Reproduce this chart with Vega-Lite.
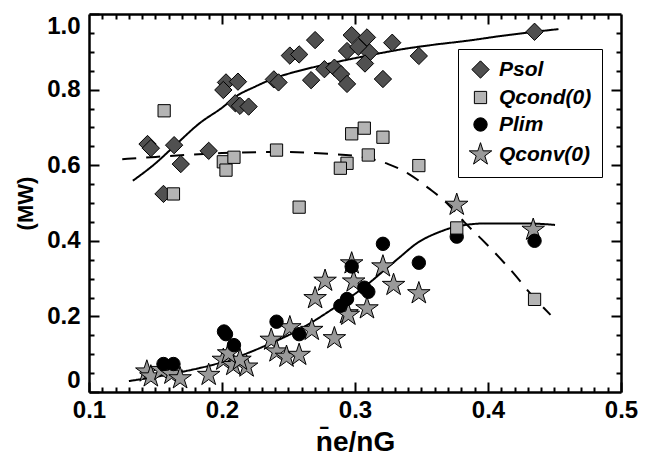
{
  "$schema": "https://vega.github.io/schema/vega-lite/v6.json",
  "width": 532,
  "height": 378,
  "autosize": {"type": "none"},
  "padding": {"left": 89, "top": 14, "right": 24, "bottom": 72},
  "config": {
    "view": {"stroke": null},
    "legend": {
      "labelFont": "Liberation Sans",
      "labelFontSize": 21,
      "labelFontWeight": "bold",
      "labelFontStyle": "italic",
      "labelColor": "black"
    }
  },
  "datasets": {
    "curves": [
      {"curve": "sol", "x": 0.133, "y": 0.559},
      {"curve": "sol", "x": 0.150, "y": 0.605},
      {"curve": "sol", "x": 0.164, "y": 0.650},
      {"curve": "sol", "x": 0.1835, "y": 0.712},
      {"curve": "sol", "x": 0.200, "y": 0.752},
      {"curve": "sol", "x": 0.211, "y": 0.783},
      {"curve": "sol", "x": 0.225, "y": 0.808},
      {"curve": "sol", "x": 0.2386, "y": 0.829},
      {"curve": "sol", "x": 0.255, "y": 0.847},
      {"curve": "sol", "x": 0.271, "y": 0.861},
      {"curve": "sol", "x": 0.2875, "y": 0.874},
      {"curve": "sol", "x": 0.304, "y": 0.886},
      {"curve": "sol", "x": 0.320, "y": 0.897},
      {"curve": "sol", "x": 0.334, "y": 0.906},
      {"curve": "sol", "x": 0.360, "y": 0.919},
      {"curve": "sol", "x": 0.384, "y": 0.929},
      {"curve": "sol", "x": 0.410, "y": 0.942},
      {"curve": "sol", "x": 0.4353, "y": 0.953},
      {"curve": "sol", "x": 0.453, "y": 0.960},
      {"curve": "cond", "x": 0.125, "y": 0.616},
      {"curve": "cond", "x": 0.150, "y": 0.622},
      {"curve": "cond", "x": 0.200, "y": 0.632},
      {"curve": "cond", "x": 0.240, "y": 0.635},
      {"curve": "cond", "x": 0.280, "y": 0.630},
      {"curve": "cond", "x": 0.305, "y": 0.622},
      {"curve": "cond", "x": 0.325, "y": 0.603},
      {"curve": "cond", "x": 0.340, "y": 0.578},
      {"curve": "cond", "x": 0.355, "y": 0.540},
      {"curve": "cond", "x": 0.369, "y": 0.500},
      {"curve": "cond", "x": 0.382, "y": 0.450},
      {"curve": "cond", "x": 0.395, "y": 0.405},
      {"curve": "cond", "x": 0.417, "y": 0.323},
      {"curve": "cond", "x": 0.434, "y": 0.252},
      {"curve": "cond", "x": 0.447, "y": 0.204},
      {"curve": "lim", "x": 0.130, "y": 0.029},
      {"curve": "lim", "x": 0.150, "y": 0.040},
      {"curve": "lim", "x": 0.171, "y": 0.054},
      {"curve": "lim", "x": 0.201, "y": 0.080},
      {"curve": "lim", "x": 0.2336, "y": 0.124},
      {"curve": "lim", "x": 0.2586, "y": 0.166},
      {"curve": "lim", "x": 0.2837, "y": 0.221},
      {"curve": "lim", "x": 0.3088, "y": 0.283},
      {"curve": "lim", "x": 0.3213, "y": 0.320},
      {"curve": "lim", "x": 0.3338, "y": 0.357},
      {"curve": "lim", "x": 0.3463, "y": 0.393},
      {"curve": "lim", "x": 0.364, "y": 0.424},
      {"curve": "lim", "x": 0.3765, "y": 0.438},
      {"curve": "lim", "x": 0.399, "y": 0.446},
      {"curve": "lim", "x": 0.429, "y": 0.446},
      {"curve": "lim", "x": 0.4504, "y": 0.442}
    ],
    "points": [
      {"series": "Qconv(0)", "x": 0.1435, "y": 0.054},
      {"series": "Qconv(0)", "x": 0.1465, "y": 0.041},
      {"series": "Qconv(0)", "x": 0.1545, "y": 0.058},
      {"series": "Qconv(0)", "x": 0.162, "y": 0.048},
      {"series": "Qconv(0)", "x": 0.1685, "y": 0.036},
      {"series": "Qconv(0)", "x": 0.190, "y": 0.045},
      {"series": "Qconv(0)", "x": 0.201, "y": 0.085},
      {"series": "Qconv(0)", "x": 0.2085, "y": 0.071},
      {"series": "Qconv(0)", "x": 0.2185, "y": 0.067},
      {"series": "Qconv(0)", "x": 0.2135, "y": 0.085},
      {"series": "Qconv(0)", "x": 0.205, "y": 0.102},
      {"series": "Qconv(0)", "x": 0.237, "y": 0.138},
      {"series": "Qconv(0)", "x": 0.241, "y": 0.107},
      {"series": "Qconv(0)", "x": 0.2485, "y": 0.093},
      {"series": "Qconv(0)", "x": 0.258, "y": 0.098},
      {"series": "Qconv(0)", "x": 0.251, "y": 0.171},
      {"series": "Qconv(0)", "x": 0.2675, "y": 0.164},
      {"series": "Qconv(0)", "x": 0.270, "y": 0.248},
      {"series": "Qconv(0)", "x": 0.2775, "y": 0.294},
      {"series": "Qconv(0)", "x": 0.2845, "y": 0.142},
      {"series": "Qconv(0)", "x": 0.2975, "y": 0.340},
      {"series": "Qconv(0)", "x": 0.299, "y": 0.292},
      {"series": "Qconv(0)", "x": 0.294, "y": 0.208},
      {"series": "Qconv(0)", "x": 0.309, "y": 0.221},
      {"series": "Qconv(0)", "x": 0.295, "y": 0.204},
      {"series": "Qconv(0)", "x": 0.321, "y": 0.332},
      {"series": "Qconv(0)", "x": 0.329, "y": 0.283},
      {"series": "Qconv(0)", "x": 0.348, "y": 0.261},
      {"series": "Qconv(0)", "x": 0.3765, "y": 0.495},
      {"series": "Qconv(0)", "x": 0.434, "y": 0.429},
      {"series": "Plim", "x": 0.156, "y": 0.074},
      {"series": "Plim", "x": 0.1635, "y": 0.074},
      {"series": "Plim", "x": 0.2015, "y": 0.160},
      {"series": "Plim", "x": 0.203, "y": 0.153},
      {"series": "Plim", "x": 0.209, "y": 0.124},
      {"series": "Plim", "x": 0.241, "y": 0.186},
      {"series": "Plim", "x": 0.258, "y": 0.153},
      {"series": "Plim", "x": 0.289, "y": 0.228},
      {"series": "Plim", "x": 0.294, "y": 0.246},
      {"series": "Plim", "x": 0.2975, "y": 0.332},
      {"series": "Plim", "x": 0.307, "y": 0.276},
      {"series": "Plim", "x": 0.310, "y": 0.265},
      {"series": "Plim", "x": 0.321, "y": 0.392},
      {"series": "Plim", "x": 0.348, "y": 0.342},
      {"series": "Plim", "x": 0.3765, "y": 0.411},
      {"series": "Plim", "x": 0.435, "y": 0.400},
      {"series": "Psol", "x": 0.270, "y": 0.931},
      {"series": "Psol", "x": 0.251, "y": 0.890},
      {"series": "Psol", "x": 0.258, "y": 0.893},
      {"series": "Psol", "x": 0.2975, "y": 0.944},
      {"series": "Psol", "x": 0.309, "y": 0.938},
      {"series": "Psol", "x": 0.294, "y": 0.902},
      {"series": "Psol", "x": 0.3025, "y": 0.913},
      {"series": "Psol", "x": 0.311, "y": 0.898},
      {"series": "Psol", "x": 0.328, "y": 0.924},
      {"series": "Psol", "x": 0.3075, "y": 0.869},
      {"series": "Psol", "x": 0.321, "y": 0.828},
      {"series": "Psol", "x": 0.267, "y": 0.825},
      {"series": "Psol", "x": 0.277, "y": 0.854},
      {"series": "Psol", "x": 0.2845, "y": 0.858},
      {"series": "Psol", "x": 0.2895, "y": 0.841},
      {"series": "Psol", "x": 0.294, "y": 0.815},
      {"series": "Psol", "x": 0.239, "y": 0.827},
      {"series": "Psol", "x": 0.2425, "y": 0.819},
      {"series": "Psol", "x": 0.203, "y": 0.819},
      {"series": "Psol", "x": 0.212, "y": 0.821},
      {"series": "Psol", "x": 0.201, "y": 0.799},
      {"series": "Psol", "x": 0.210, "y": 0.764},
      {"series": "Psol", "x": 0.2135, "y": 0.757},
      {"series": "Psol", "x": 0.220, "y": 0.755},
      {"series": "Psol", "x": 0.144, "y": 0.656},
      {"series": "Psol", "x": 0.1465, "y": 0.645},
      {"series": "Psol", "x": 0.164, "y": 0.653},
      {"series": "Psol", "x": 0.169, "y": 0.603},
      {"series": "Psol", "x": 0.190, "y": 0.638},
      {"series": "Psol", "x": 0.156, "y": 0.524},
      {"series": "Psol", "x": 0.435, "y": 0.953},
      {"series": "Psol", "x": 0.348, "y": 0.889},
      {"series": "Qcond(0)", "x": 0.1565, "y": 0.744},
      {"series": "Qcond(0)", "x": 0.1635, "y": 0.524},
      {"series": "Qcond(0)", "x": 0.201, "y": 0.609},
      {"series": "Qcond(0)", "x": 0.209, "y": 0.621},
      {"series": "Qcond(0)", "x": 0.203, "y": 0.587},
      {"series": "Qcond(0)", "x": 0.241, "y": 0.640},
      {"series": "Qcond(0)", "x": 0.258, "y": 0.489},
      {"series": "Qcond(0)", "x": 0.2975, "y": 0.683},
      {"series": "Qcond(0)", "x": 0.307, "y": 0.698},
      {"series": "Qcond(0)", "x": 0.321, "y": 0.674},
      {"series": "Qcond(0)", "x": 0.310, "y": 0.627},
      {"series": "Qcond(0)", "x": 0.294, "y": 0.605},
      {"series": "Qcond(0)", "x": 0.289, "y": 0.592},
      {"series": "Qcond(0)", "x": 0.348, "y": 0.599},
      {"series": "Qcond(0)", "x": 0.3765, "y": 0.434},
      {"series": "Qcond(0)", "x": 0.435, "y": 0.245}
    ]
  },
  "layer": [
    {
      "data": {"name": "curves"},
      "mark": {"type": "line", "interpolate": "monotone", "strokeWidth": 2, "color": "black"},
      "encoding": {
        "x": {
          "field": "x", "type": "quantitative",
          "scale": {"domain": [0.1, 0.5], "nice": false, "zero": false},
          "axis": {
            "orient": "bottom", "title": null, "labels": false, "grid": false, "domain": false, "ticks": true, "tickSize": -5, "tickColor": "#000000", "tickWidth": 2, "tickOpacity": 1, "zindex": 1,
            "values": [0.11,0.12,0.13,0.14,0.15,0.16,0.17,0.18,0.19,0.21,0.22,0.23,0.24,0.25,0.26,0.27,0.28,0.29,0.31,0.32,0.33,0.34,0.35,0.36,0.37,0.38,0.39,0.41,0.42,0.43,0.44,0.45,0.46,0.47,0.48,0.49]
          }
        },
        "y": {
          "field": "y", "type": "quantitative",
          "scale": {"domain": [0, 1.0], "nice": false, "zero": false},
          "axis": {
            "orient": "left", "title": null, "labels": false, "grid": false, "domain": false, "ticks": true, "tickSize": -5, "tickColor": "#000000", "tickWidth": 2, "tickOpacity": 1, "zindex": 1,
            "values": [0.05,0.1,0.15,0.25,0.3,0.35,0.45,0.5,0.55,0.65,0.7,0.75,0.85,0.9,0.95]
          }
        },
        "detail": {"field": "curve"},
        "strokeDash": {"field": "curve", "type": "nominal", "scale": {"domain": ["sol", "cond", "lim"], "range": [[1, 0], [14, 10], [1, 0]]}, "legend": null}
      }
    },
    {
      "data": {"name": "points"},
      "mark": {"type": "point", "filled": true, "opacity": 1, "stroke": "black", "strokeWidth": 1},
      "encoding": {
        "x": {
          "field": "x", "type": "quantitative",
          "scale": {"domain": [0.1, 0.5], "nice": false, "zero": false},
          "axis": {
            "orient": "bottom",
            "title": "n̄e/nG",
            "titleFont": "Liberation Sans",
            "titleFontWeight": "bold",
            "titleColor": "black",
            "titleFontSize": 28,
            "titlePadding": 6,
            "values": [0.1, 0.2, 0.3, 0.4, 0.5],
            "format": ".1f",
            "labelFont": "Liberation Sans",
            "labelFontSize": 24,
            "labelFontWeight": "bold",
            "labelColor": "black",
            "labelFlush": false,
            "grid": false,
            "domain": true,
            "domainColor": "black",
            "domainWidth": 2.5,
            "ticks": true,
            "tickSize": -10,
            "tickColor": "#000000",
            "tickWidth": 2,
            "tickOpacity": 1,
            "zindex": 1,
            "labelPadding": 16
          }
        },
        "y": {
          "field": "y", "type": "quantitative",
          "scale": {"domain": [0, 1.0], "nice": false, "zero": false},
          "axis": {
            "orient": "left",
            "title": "(MW)",
            "titleFont": "Liberation Sans",
            "titleFontWeight": "bold",
            "titleColor": "black",
            "titleFontSize": 22,
            "titlePadding": 9,
            "values": [0, 0.2, 0.4, 0.6, 0.8, 1.0],
            "labelExpr": "datum.value == 0 ? '0' : format(datum.value, '.1f')",
            "labelFont": "Liberation Sans",
            "labelFontSize": 24,
            "labelFontWeight": "bold",
            "labelColor": "black",
            "grid": false,
            "domain": true,
            "domainColor": "black",
            "domainWidth": 2.5,
            "ticks": true,
            "tickSize": -10,
            "tickColor": "#000000",
            "tickWidth": 2,
            "tickOpacity": 1,
            "zindex": 1,
            "labelPadding": 19,
            "labelFlush": true
          }
        },
        "color": {
          "field": "series", "type": "nominal",
          "scale": {"domain": ["Psol", "Qcond(0)", "Plim", "Qconv(0)"], "range": ["#505050", "#b4b4b4", "#000000", "#999999"]},
          "legend": {
            "title": null,
            "orient": "none",
            "legendX": 369,
            "legendY": 35,
            "padding": 10,
            "strokeColor": "black",
            "fillColor": "white",
            "rowPadding": 5,
            "labelOffset": 6,
            "symbolStrokeColor": "black",
            "symbolStrokeWidth": 1,
            "encode": {"legend": {"update": {"strokeWidth": {"value": 2}}}}
          }
        },
        "shape": {
          "field": "series", "type": "nominal",
          "scale": {"domain": ["Psol", "Qcond(0)", "Plim", "Qconv(0)"], "range": ["diamond", "square", "circle", "M0,-1L0.2245,-0.309L0.9511,-0.309L0.3633,0.118L0.5878,0.809L0,0.382L-0.5878,0.809L-0.3633,0.118L-0.9511,-0.309L-0.2245,-0.309Z"]},
          "legend": {"title": null, "orient": "none", "legendX": 369, "legendY": 35}
        },
        "size": {
          "field": "series", "type": "nominal",
          "scale": {"type": "ordinal", "domain": ["Psol", "Qcond(0)", "Plim", "Qconv(0)"], "range": [300, 150, 180, 560]},
          "legend": {"title": null, "orient": "none", "legendX": 369, "legendY": 35}
        }
      }
    },
    {
      "data": {"name": "curves"},
      "mark": {"type": "point", "opacity": 0},
      "encoding": {
        "x": {
          "field": "x", "type": "quantitative",
          "scale": {"domain": [0.1, 0.5], "nice": false, "zero": false},
          "axis": {
            "orient": "top", "title": null, "labels": false, "grid": false, "domain": false, "ticks": true, "tickSize": -5, "tickColor": "#000000", "tickWidth": 2, "tickOpacity": 1, "zindex": 1,
            "values": [0.11,0.12,0.13,0.14,0.15,0.16,0.17,0.18,0.19,0.21,0.22,0.23,0.24,0.25,0.26,0.27,0.28,0.29,0.31,0.32,0.33,0.34,0.35,0.36,0.37,0.38,0.39,0.41,0.42,0.43,0.44,0.45,0.46,0.47,0.48,0.49]
          }
        },
        "y": {
          "field": "y", "type": "quantitative",
          "scale": {"domain": [0, 1.0], "nice": false, "zero": false},
          "axis": {
            "orient": "right", "title": null, "labels": false, "grid": false, "domain": false, "ticks": true, "tickSize": -5, "tickColor": "#000000", "tickWidth": 2, "tickOpacity": 1, "zindex": 1,
            "values": [0.05,0.1,0.15,0.25,0.3,0.35,0.45,0.5,0.55,0.65,0.7,0.75,0.85,0.9,0.95]
          }
        }
      }
    },
    {
      "data": {"name": "curves"},
      "mark": {"type": "point", "opacity": 0},
      "encoding": {
        "x": {
          "field": "x", "type": "quantitative",
          "scale": {"domain": [0.1, 0.5], "nice": false, "zero": false},
          "axis": {"orient": "top", "title": null, "labels": false, "grid": false, "domain": true, "domainColor": "black", "domainWidth": 2.5, "ticks": true, "tickSize": -10, "tickColor": "#000000", "tickWidth": 2, "tickOpacity": 1, "zindex": 1, "values": [0.2, 0.3, 0.4]}
        },
        "y": {
          "field": "y", "type": "quantitative",
          "scale": {"domain": [0, 1.0], "nice": false, "zero": false},
          "axis": {"orient": "right", "title": null, "labels": false, "grid": false, "domain": true, "domainColor": "black", "domainWidth": 2.5, "ticks": true, "tickSize": -10, "tickColor": "#000000", "tickWidth": 2, "tickOpacity": 1, "zindex": 1, "values": [0.2, 0.4, 0.6, 0.8]}
        }
      }
    }
  ],
  "resolve": {"axis": {"x": "independent", "y": "independent"}}
}
